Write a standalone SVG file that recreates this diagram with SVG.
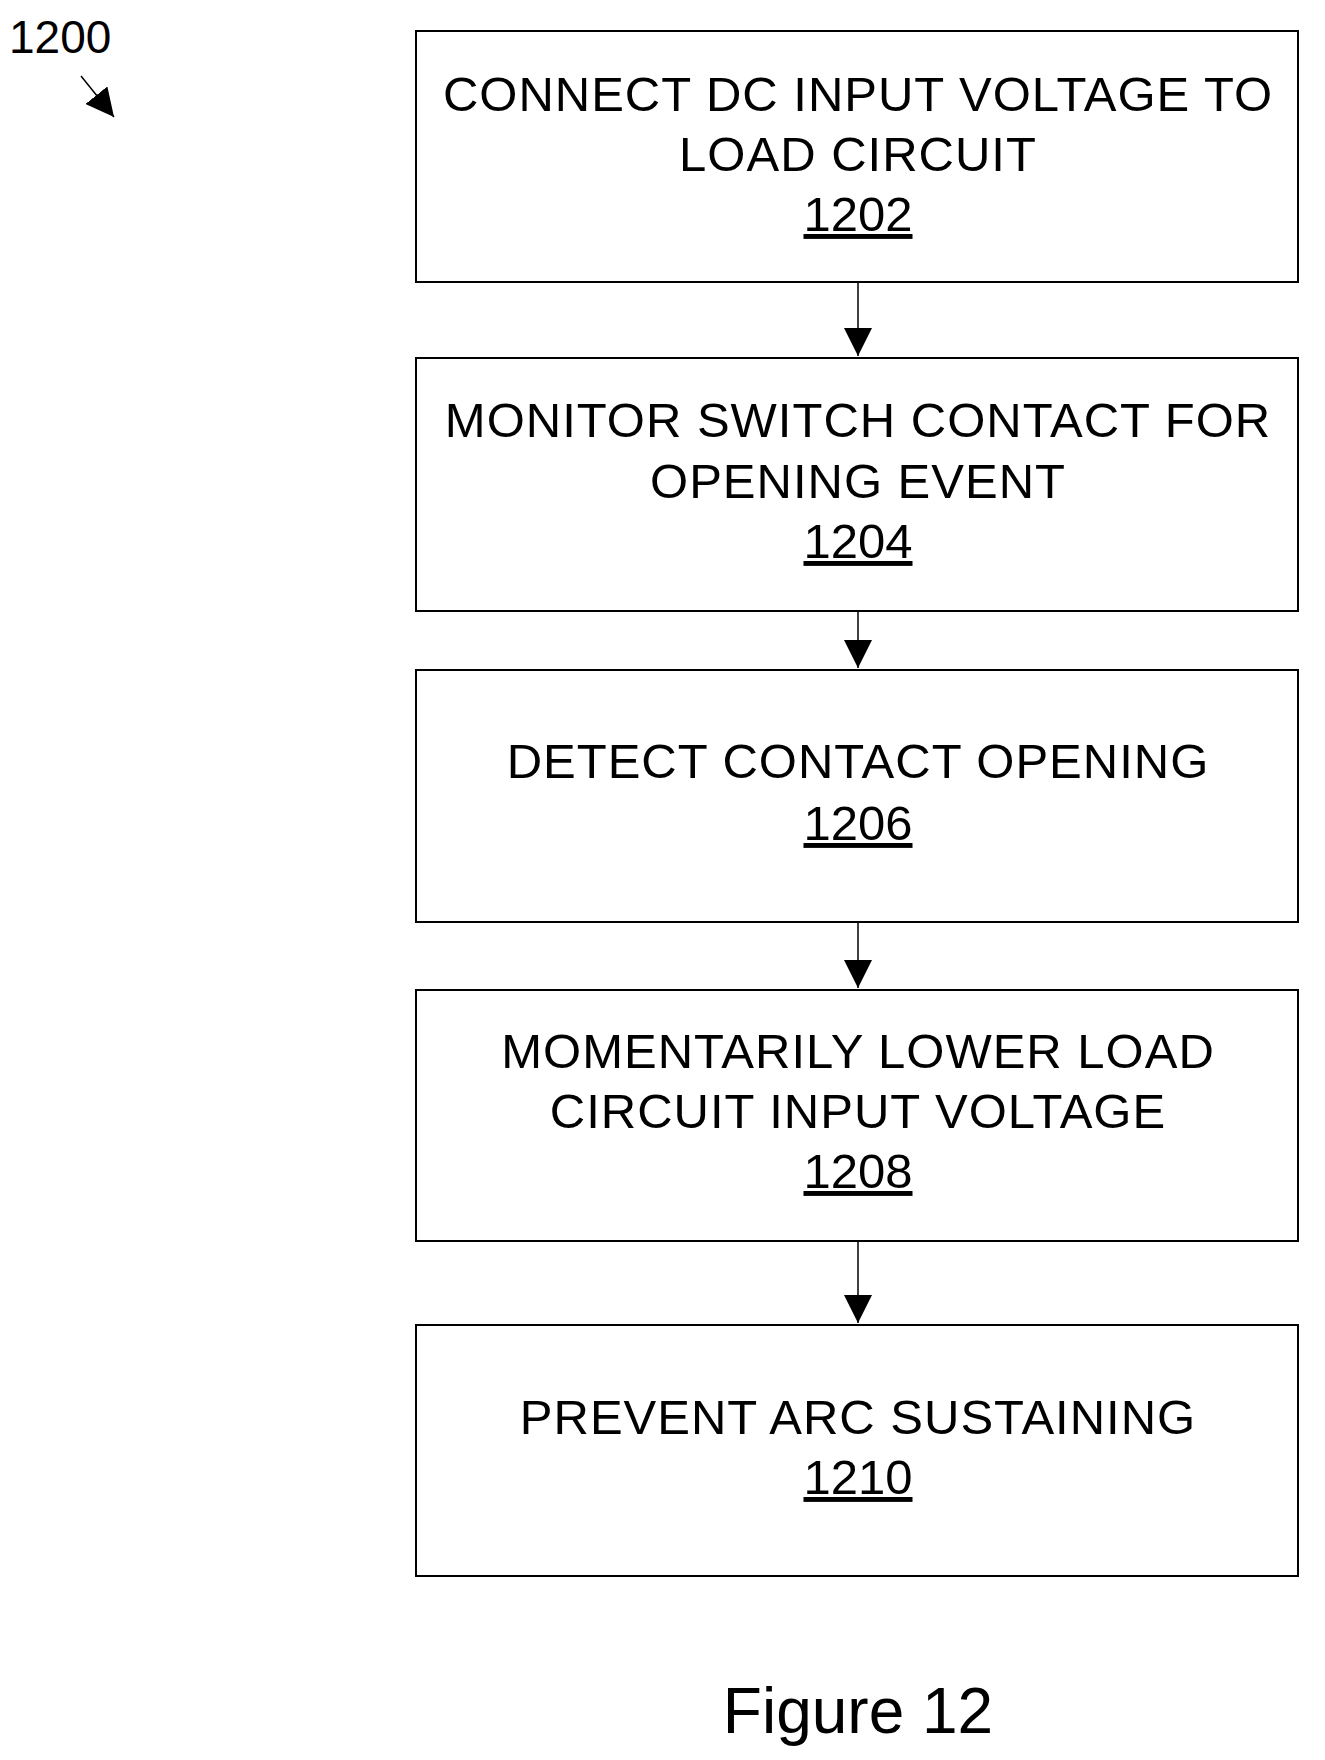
<svg xmlns="http://www.w3.org/2000/svg" width="1325" height="1760" viewBox="0 0 1325 1760">
<style>
text{font-family:"Liberation Sans",Arial,sans-serif;font-size:49px;fill:#000;text-anchor:middle}
.t{letter-spacing:1px}
.box{fill:#fff;stroke:#000;stroke-width:2}
.c{stroke:#000;stroke-width:1.5;fill:none}
</style>
<defs><marker id="a2" viewBox="0 0 10 10" refX="10" refY="5" markerWidth="28" markerHeight="28" orient="auto" markerUnits="userSpaceOnUse"><path d="M0,0L10,5L0,10z"/></marker></defs>
<rect width="1325" height="1760" fill="#fff"/>
<g id="label1200"><text x="9" y="53" style="text-anchor:start;font-size:46px">1200</text><line class="c" x1="81" y1="76" x2="114" y2="117" marker-end="url(#a2)"/></g>
<g id="n1202"><rect class="box" x="416" y="31" width="882" height="251"/><text class="t" x="858" y="111">CONNECT DC INPUT VOLTAGE TO</text><text class="t" x="858" y="171">LOAD CIRCUIT</text><text x="858" y="231" text-decoration="underline">1202</text></g>
<g id="n1204"><rect class="box" x="416" y="358" width="882" height="253"/><text class="t" x="858" y="437">MONITOR SWITCH CONTACT FOR</text><text class="t" x="858" y="498">OPENING EVENT</text><text x="858" y="558" text-decoration="underline">1204</text></g>
<g id="n1206"><rect class="box" x="416" y="670" width="882" height="252"/><text class="t" x="858" y="778">DETECT CONTACT OPENING</text><text x="858" y="840" text-decoration="underline">1206</text></g>
<g id="n1208"><rect class="box" x="416" y="990" width="882" height="251"/><text class="t" x="858" y="1068">MOMENTARILY LOWER LOAD</text><text class="t" x="858" y="1128">CIRCUIT INPUT VOLTAGE</text><text x="858" y="1188" text-decoration="underline">1208</text></g>
<g id="n1210"><rect class="box" x="416" y="1325" width="882" height="251"/><text class="t" x="858" y="1434">PREVENT ARC SUSTAINING</text><text x="858" y="1494" text-decoration="underline">1210</text></g>
<g id="connectors">
<line class="c" x1="858" y1="282" x2="858" y2="356" marker-end="url(#a2)"/>
<line class="c" x1="858" y1="611" x2="858" y2="668" marker-end="url(#a2)"/>
<line class="c" x1="858" y1="922" x2="858" y2="988" marker-end="url(#a2)"/>
<line class="c" x1="858" y1="1241" x2="858" y2="1323" marker-end="url(#a2)"/>
</g>
<text x="858" y="1733" style="font-size:64px">Figure 12</text>
</svg>
